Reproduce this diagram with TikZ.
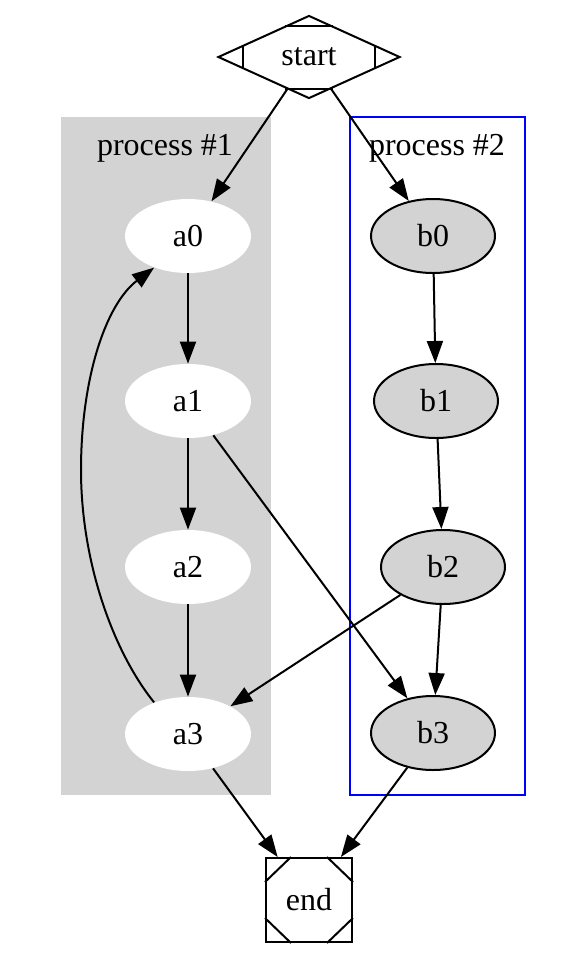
\documentclass[tikz,border=0pt]{standalone}
\usepackage{fontspec}
\setmainfont{Liberation Serif}
\usetikzlibrary{shapes.geometric,arrows.meta,calc}
\definecolor{lgray}{RGB}{211,211,211}
\begin{document}
\begin{tikzpicture}[x=0.5pt,y=-0.5pt,
  font=\fontsize{16}{19}\selectfont,
  every node/.style={inner sep=0pt},
  edge/.style={line width=1pt,-{Triangle[length=11pt,width=8pt]}},
  aell/.style={ellipse,fill=white,minimum width=63pt,minimum height=37pt},
  bell/.style={ellipse,draw,line width=1pt,fill=lgray,minimum width=62pt,minimum height=37pt},
  clusterone/.style={fill=lgray},
  clustertwo/.style={draw=blue,line width=1pt},
  cornermark/.style={line width=1pt}]
\useasboundingbox (0,0) rectangle (584,966);
% clusters
\path[clusterone] (61,117) rectangle (271,795);
\path[clustertwo] (350,117) rectangle (525,795);
\node (l1) at (165,148) {process \#1};
\node (l2) at (437,148) {process \#2};
% nodes
\node[aell] (a0) at (188,236) {a0};
\node[aell] (a1) at (188,401) {a1};
\node[aell] (a2) at (188,567) {a2};
\node[aell] (a3) at (188,734) {a3};
\node[bell] (b0) at (433,236) {b0};
\node[bell] (b1) at (436,401) {b1};
\node[bell] (b2) at (443,567) {b2};
\node[bell] (b3) at (433,733) {b3};
\node[diamond,draw,line width=1pt,minimum width=91pt,minimum height=41.5pt] (s) at (309,57) {start};
\node[rectangle,draw,line width=1pt,minimum width=43pt,minimum height=42pt] (e) at (309,900) {end};
% Mdiamond marks
\draw[cornermark] ($(s.north)+(-24,11)$) -- ($(s.north)+(24,11)$);
\draw[cornermark] ($(s.south)+(-24,-11)$) -- ($(s.south)+(24,-11)$);
\draw[cornermark] ($(s.west)+(26,-12)$) -- ($(s.west)+(26,12)$);
\draw[cornermark] ($(s.east)+(-26,-12)$) -- ($(s.east)+(-26,12)$);
% Msquare marks
\draw[cornermark] ($(e.north west)+(0,25)$) -- ($(e.north west)+(26,0)$);
\draw[cornermark] ($(e.north east)+(0,25)$) -- ($(e.north east)+(-26,0)$);
\draw[cornermark] ($(e.south west)+(0,-25)$) -- ($(e.south west)+(26,0)$);
\draw[cornermark] ($(e.south east)+(0,-25)$) -- ($(e.south east)+(-26,0)$);
% edges
\draw[edge] (s) -- (a0);
\draw[edge] (s) -- (b0);
\draw[edge] (a0) -- (a1);
\draw[edge] (a1) -- (a2);
\draw[edge] (a2) -- (a3);
\draw[edge] (b0) -- (b1);
\draw[edge] (b1) -- (b2);
\draw[edge] (b2) -- (b3);
\draw[edge] (a1) -- (b3);
\draw[edge] (b2) -- (a3);
\draw[edge] (a3) -- (e);
\draw[edge] (b3) -- (e);
\coordinate (m) at (81,470);
\draw[edge] (a3.137) .. controls (112,650) and (81,560) .. (m)
  .. controls (81,380) and (105,305) .. (a0.223);
\end{tikzpicture}
\end{document}
